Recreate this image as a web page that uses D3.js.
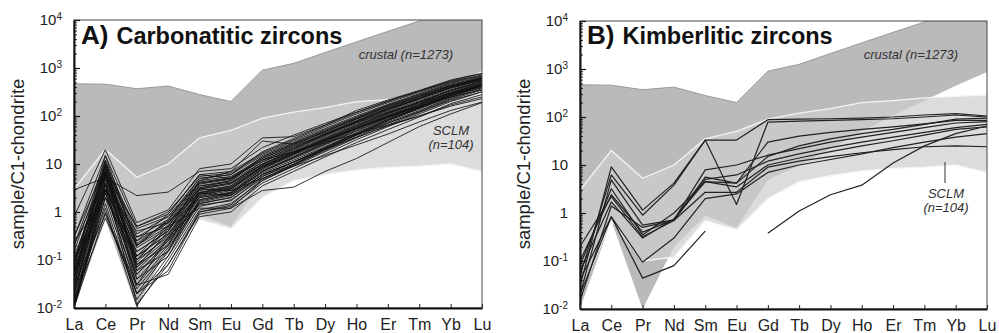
<!DOCTYPE html>
<html>
<head>
<meta charset="utf-8">
<script src="https://cdn.jsdelivr.net/npm/d3@7"></script>
<style>
  body { margin: 0; background: #fff; }
  svg { display: block; font-family: "Liberation Sans", Arial, Helvetica, sans-serif; }
</style>
</head>
<body>
<svg id="chart" width="999" height="333"></svg>
<script>
// rare earth elements, chondrite normalised
const ree = ["La", "Ce", "Pr", "Nd", "Sm", "Eu", "Gd", "Tb", "Dy", "Ho", "Er", "Tm", "Yb", "Lu"];
const decades = [1e-2, 1e-1, 1, 10, 1e2, 1e3, 1e4];

// reference fields
const crustalUpper = [470, 460, 370, 420, 280, 200, 900, 1250, 2100, 3500, 5800, 9500, 16000, 25000];
const crustalLower = [0.01, 0.7, 0.01, 0.2, 0.9, 0.5, 5, 10, 22, 50, 110, 220, 450, 870];
const sclmUpper = [3, 20, 5.3, 10, 35, 50, 90, 120, 150, 200, 220, 250, 270, 290];
const sclmLower = [0.02, 0.7, 0.1, 0.12, 0.7, 0.45, 2, 4.5, 6, 7.5, 8.5, 9, 10, 7];

// A) carbonatitic zircons
const carbonatitic = [
  [2.9, 5.2, 2.2, 2.6, 7, 8, 22, 40, 70, 120, 200, 330, 520, 720],
  [0.8, 20, 0.6, 1.1, 8, 10, 35, 37, 65, 130, 215, 340, 560, 780],
  [0.3, 15, 0.5, 0.9, 6, 7, 17, 32, 60, 110, 190, 310, 500, 700],
  [0.2, 12, 0.35, 0.8, 5, 6, 15, 28, 52, 95, 170, 280, 460, 650],
  [0.15, 10, 0.3, 0.7, 4.5, 5.5, 13, 25, 47, 88, 160, 260, 430, 620],
  [0.1, 9, 0.25, 0.6, 4, 5, 12, 23, 43, 80, 145, 240, 410, 600],
  [0.08, 8, 0.2, 0.5, 3.5, 4.5, 11, 21, 40, 75, 135, 225, 390, 580],
  [0.06, 7, 0.18, 0.45, 3.2, 4, 10, 19, 37, 70, 125, 210, 370, 560],
  [0.05, 6, 0.15, 0.4, 3, 3.8, 9.5, 18, 35, 66, 118, 200, 350, 540],
  [0.04, 5.5, 0.12, 0.35, 2.8, 3.5, 9, 17, 33, 62, 112, 190, 335, 520],
  [0.03, 5, 0.1, 0.3, 2.5, 3.2, 8.5, 16, 31, 58, 105, 180, 320, 500],
  [0.025, 4.5, 0.08, 0.28, 2.3, 3, 8, 15, 29, 55, 100, 170, 300, 480],
  [0.02, 4, 0.07, 0.25, 2.1, 2.8, 7.5, 14, 27, 52, 95, 160, 290, 460],
  [0.015, 3.5, 0.05, 0.22, 2, 2.6, 7, 13, 25, 48, 90, 150, 280, 450],
  [0.012, 3, 0.04, 0.2, 1.8, 2.4, 6.5, 12, 23, 45, 85, 145, 265, 430],
  [0.01, 2.5, 0.03, 0.18, 1.6, 2.2, 6, 11, 22, 42, 80, 140, 250, 410],
  [0.01, 2, 0.02, 0.15, 1.5, 2, 5.5, 10, 20, 40, 75, 130, 240, 390],
  [0.012, 1.5, 0.015, 0.12, 1.3, 1.8, 5, 9.5, 19, 37, 70, 125, 230, 370],
  [0.02, 1.2, 0.011, 0.1, 1.1, 1.5, 4.5, 9, 18, 35, 65, 118, 220, 350],
  [0.03, 0.9, 0.02, 0.08, 1, 1.3, 4, 8, 16, 32, 60, 110, 200, 320],
  [0.015, 0.75, 0.03, 0.05, 0.8, 1, 3.5, 7, 14, 28, 52, 95, 180, 280],
  [0.1, 3, 0.4, 0.6, 2.5, 2.2, 6, 11, 20, 36, 62, 100, 170, 250],
  [0.2, 6, 0.5, 1.0, 5.5, 6.5, 16, 30, 55, 100, 175, 290, 480, 680],
  [0.05, 8, 0.08, 0.2, 3, 4, 11, 21, 41, 78, 140, 235, 400, 590],
  [0.04, 10, 0.06, 0.15, 2.5, 3.5, 10, 20, 39, 74, 132, 225, 385, 570],
  [0.02, 7, 0.04, 0.12, 1.8, 2.5, 8, 16, 32, 60, 110, 190, 340, 520],
  [0.08, 4, 0.25, 0.9, 6, 5, 12, 18, 28, 42, 65, 100, 160, 230],
  [0.05, 3, 0.2, 0.6, 3, 2.8, 5, 9, 15, 25, 42, 75, 130, 195],
  [0.015, 2, 0.1, 0.5, 1.2, 1.2, 2.8, 3.3, 7, 13, 28, 60, 110, 190],
  [0.3, 9, 0.45, 0.8, 4, 5, 13, 24, 42, 72, 120, 190, 300, 420],
  [0.12, 5, 0.3, 0.5, 3.5, 4.2, 10, 18, 32, 55, 95, 155, 250, 350],
  [0.06, 3, 0.12, 0.35, 2, 2.5, 7, 14, 28, 55, 100, 175, 310, 480],
  [0.03, 12, 0.07, 0.4, 3.2, 4.5, 14, 27, 50, 92, 165, 270, 440, 640],
  [0.02, 6, 0.03, 0.3, 1.4, 1.7, 5.5, 11, 22, 44, 85, 150, 270, 430],
  [0.01, 4, 0.012, 0.08, 0.9, 1.2, 4.5, 9.5, 20, 40, 80, 145, 260, 420],
  [0.25, 2, 0.15, 0.4, 4.5, 7, 30, 26, 45, 85, 150, 250, 420, 620],
  [0.07, 15, 0.2, 0.7, 5, 6, 18, 34, 64, 118, 205, 330, 540, 760],
  [0.04, 2.5, 0.05, 0.25, 1.5, 2, 6, 11, 21, 40, 72, 120, 210, 320],
  [0.01, 1, 0.02, 0.06, 1, 1.4, 4.8, 10, 21, 42, 82, 150, 270, 440],
  [0.09, 7, 0.1, 0.45, 2.2, 3, 9, 17, 31, 56, 98, 160, 270, 390],
  [0.05, 9, 0.12, 0.55, 3.8, 4.8, 12, 22, 42, 78, 140, 230, 390, 570],
  [0.03, 6.5, 0.09, 0.33, 2.6, 3.3, 9, 17, 34, 64, 115, 195, 345, 520],
  [0.02, 3.8, 0.06, 0.27, 2.4, 3.1, 8.5, 16, 30, 56, 100, 170, 300, 470],
  [0.07, 11, 0.22, 0.65, 4.2, 5.2, 14, 26, 48, 88, 155, 255, 420, 610],
  [0.012, 2.8, 0.025, 0.16, 1.7, 2.3, 7, 13.5, 26, 50, 92, 160, 285, 450]
];

// B) kimberlitic zircons (null = not analysed)
const kimberlitic = [
  [0.03, 9.1, 1.15, 4.2, 33, 33, 88, 90, 92, 95, 100, 110, 118, 105],
  [0.05, 6.2, 0.9, 3.8, 33, 1.5, 78, 82, 85, 88, 92, 100, 110, 100],
  [0.02, 4.9, 0.56, 0.72, 5.6, 4.2, 30, 40, 48, 55, 62, 72, 85, 85],
  [0.1, 2.4, 0.4, 0.72, 7.9, 10, 16, 22, 30, 38, 48, 60, 75, 80],
  [0.2, 2.2, 0.32, 0.7, 5, 6.2, 12, 17, 23, 30, 38, 48, 60, 70],
  [0.06, 1.7, 0.3, 0.75, 4.5, 3.5, 10, 14, 19, 25, 32, 42, 55, 62],
  [0.015, 1.4, 0.5, 0.7, 2.7, 2.7, 9, 12, 15, 18, 21, 24, 25, 24],
  [0.04, 0.83, 0.095, 0.3, 2.0, 2.5, 7, 10, 13, 17, 23, 30, 38, 45],
  [0.08, 3.2, 0.35, 1.0, 4.5, 4.2, 15, 25, 35, 45, 55, 70, 90, 95],
  [0.02, 0.83, 0.044, 0.08, 0.42, null, 0.38, 1.1, 2.4, 3.8, 11, 25, 45, 65]
];

const svg = d3.select("#chart");

function ree_plot(key, box, samples, title, sub, sclmPos, lineStyle) {
  const g = svg.append("g");

  const x = d3.scalePoint().domain(ree).range([box.left, box.right]);
  const y = d3.scaleLog().domain([1e-2, 1e4]).range([box.bottom, box.top]);

  // clip to the plot box
  g.append("clipPath").attr("id", `box-${key}`)
    .append("rect")
    .attr("x", box.left).attr("y", box.top)
    .attr("width", box.right - box.left).attr("height", box.bottom - box.top);

  const fields = ree.map((e, i) => ({
    e, cHi: crustalUpper[i], cLo: crustalLower[i], sHi: sclmUpper[i], sLo: sclmLower[i]
  }));
  const crustArea = d3.area().x(d => x(d.e)).y0(d => y(d.cLo)).y1(d => y(d.cHi));
  const sclmArea = d3.area().x(d => x(d.e)).y0(d => y(d.sLo)).y1(d => y(d.sHi));

  g.append("clipPath").attr("id", `crust-${key}`)
    .append("path").attr("d", crustArea(fields));

  const fg = g.append("g").attr("clip-path", `url(#box-${key})`);
  fg.append("path").attr("d", sclmArea(fields)).attr("fill", "#dcdcdc");
  fg.append("path").attr("d", crustArea(fields)).attr("fill", "#bababa");
  fg.append("path").attr("d", sclmArea(fields)).attr("fill", "#c8c8c8")
    .attr("clip-path", `url(#crust-${key})`);
  fg.append("path")
    .attr("d", d3.line().x(d => x(d.e)).y(d => y(d.cHi))(fields))
    .attr("fill", "none").attr("stroke", "#9a9a9a").attr("stroke-width", 1);
  fg.append("path").attr("d", sclmArea(fields))
    .attr("fill", "none").attr("stroke", "#f4f4f4").attr("stroke-width", 1.3);

  // sample patterns
  const line = d3.line()
    .defined(d => d != null)
    .x((d, i) => x(ree[i]))
    .y(d => y(d));
  fg.selectAll(".sample")
    .data(samples)
    .enter()
    .append("path")
    .attr("class", "sample")
    .attr("d", line)
    .attr("fill", "none")
    .attr("stroke", lineStyle.color)
    .attr("stroke-width", lineStyle.width)
    .attr("stroke-linejoin", "round");

  // frame
  g.append("rect")
    .attr("x", box.left).attr("y", box.top)
    .attr("width", box.right - box.left).attr("height", box.bottom - box.top)
    .attr("fill", "none").attr("stroke", "#444").attr("stroke-width", 1);

  // y axis, ticks pointing in
  const minor = decades.slice(0, -1).flatMap(d => [2, 3, 4, 5, 6, 7, 8, 9].map(k => k * d));
  g.append("g")
    .attr("transform", `translate(${box.left},0)`)
    .call(d3.axisLeft(y).tickValues(minor).tickSize(-3).tickSizeOuter(0).tickFormat(""))
    .call(a => a.select(".domain").remove())
    .selectAll("line").attr("stroke", "#222");

  const ya = g.append("g")
    .attr("transform", `translate(${box.left},0)`)
    .call(d3.axisLeft(y).tickValues(decades).tickSize(-6).tickSizeOuter(0).tickPadding(12).tickFormat(""));
  ya.select(".domain").attr("stroke", "#111").attr("stroke-width", 2);
  ya.selectAll("line").attr("stroke", "#111").attr("stroke-width", 1.2);
  ya.selectAll(".tick text").each(function (d) {
    const t = d3.select(this).attr("font-size", 15).attr("fill", "#222");
    const p = Math.round(Math.log10(d));
    if (p === 0) t.text("1");
    else if (p === 1) t.text("10");
    else {
      t.append("tspan").text("10");
      t.append("tspan").attr("dy", "-0.5em").attr("font-size", 10).text(p);
    }
  });

  // x axis
  const xa = g.append("g")
    .attr("transform", `translate(0,${box.bottom})`)
    .call(d3.axisBottom(x).tickSize(-4).tickSizeOuter(0).tickPadding(11));
  xa.select(".domain").attr("stroke", "#111").attr("stroke-width", 2);
  xa.selectAll("line").attr("stroke", "#222");
  xa.selectAll("text").attr("font-size", 16).attr("fill", "#222");

  // axis title
  g.append("text")
    .attr("transform", `translate(${box.left - 50},164) rotate(-90)`)
    .attr("text-anchor", "middle")
    .attr("font-size", 18.5)
    .attr("fill", "#222")
    .text("sample/C1-chondrite");

  // panel title
  const tt = g.append("text")
    .attr("x", box.left + 7).attr("y", 44)
    .attr("font-weight", "bold").attr("fill", "#111");
  tt.append("tspan").attr("font-size", 26).text(title);
  tt.append("tspan").attr("font-size", 23.5).attr("dx", 8).text(sub);

  // field labels
  g.append("text")
    .attr("x", box.right - 29).attr("y", 59)
    .attr("text-anchor", "end")
    .attr("font-size", 13).attr("font-style", "italic").attr("fill", "#333")
    .text("crustal (n=1273)");
  g.append("text")
    .attr("x", sclmPos.x).attr("y", sclmPos.y)
    .attr("text-anchor", "middle")
    .attr("font-size", 13).attr("font-style", "italic").attr("fill", "#333")
    .text("SCLM");
  g.append("text")
    .attr("x", sclmPos.x).attr("y", sclmPos.y + 14)
    .attr("text-anchor", "middle")
    .attr("font-size", 13).attr("font-style", "italic").attr("fill", "#333")
    .text("(n=104)");
  if (sclmPos.leader) {
    g.append("line")
      .attr("x1", sclmPos.x - 1).attr("x2", sclmPos.x - 1)
      .attr("y1", sclmPos.y - 36).attr("y2", sclmPos.y - 15)
      .attr("stroke", "#333").attr("stroke-width", 1);
  }
}

ree_plot("a", { left: 74, right: 482, top: 20, bottom: 308 }, carbonatitic,
  "A)", "Carbonatitic zircons", { x: 451, y: 135 }, { color: "#111", width: 0.85 });
ree_plot("b", { left: 580, right: 987, top: 21, bottom: 309 }, kimberlitic,
  "B)", "Kimberlitic zircons", { x: 946, y: 198, leader: true }, { color: "#222", width: 1.2 });
</script>
</body>
</html>
